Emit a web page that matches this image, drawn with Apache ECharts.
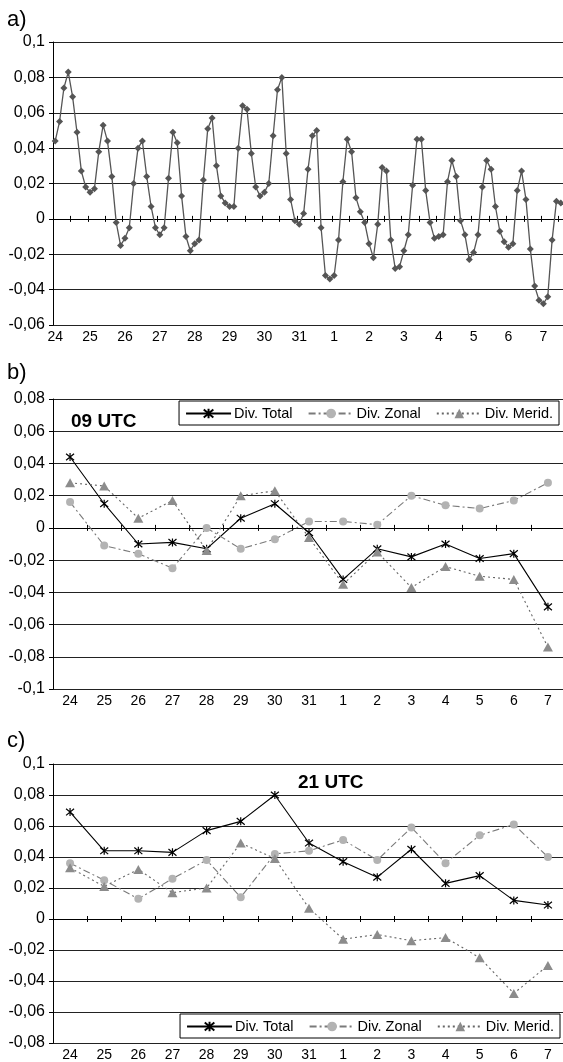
<!DOCTYPE html>
<html>
<head>
<meta charset="utf-8">
<script src="https://cdn.jsdelivr.net/npm/echarts@6/dist/echarts.min.js"></script>
<style>
  html, body { margin: 0; padding: 0; background: #fff; }
  #chart { width: 563px; height: 1062px; }
</style>
</head>
<body>
<div id="chart"></div>
<script>
const days = ['24', '25', '26', '27', '28', '29', '30', '31', '1', '2', '3', '4', '5', '6', '7'];
const hours = ['00', '03', '06', '09', '12', '15', '18', '21'];

// a) 3-hourly divergence, the last points of day 7 are outside the frame
const divA = [
  0.044, 0.055, 0.074, 0.083, 0.069, 0.049, 0.027, 0.018,
  0.015, 0.017, 0.038, 0.053, 0.044, 0.024, -0.002, -0.015,
  -0.011, -0.005, 0.020, 0.040, 0.044, 0.024, 0.007, -0.005,
  -0.009, -0.005, 0.023, 0.049, 0.043, 0.013, -0.010, -0.018,
  -0.014, -0.012, 0.022, 0.051, 0.057, 0.030, 0.013, 0.009,
  0.007, 0.007, 0.040, 0.064, 0.062, 0.037, 0.018, 0.013,
  0.015, 0.020, 0.047, 0.073, 0.080, 0.037, 0.011, -0.001,
  -0.003, 0.003, 0.028, 0.047, 0.050, -0.005, -0.032, -0.034,
  -0.032, -0.012, 0.021, 0.045, 0.038, 0.012, 0.004, -0.002,
  -0.014, -0.022, -0.003, 0.029, 0.027, -0.012, -0.028, -0.027,
  -0.018, -0.009, 0.019, 0.045, 0.045, 0.016, -0.002, -0.011,
  -0.010, -0.009, 0.021, 0.033, 0.024, -0.001, -0.009, -0.023,
  -0.019, -0.009, 0.018, 0.033, 0.028, 0.007, -0.007, -0.013,
  -0.016, -0.014, 0.016, 0.027, 0.011, -0.017, -0.038, -0.046,
  -0.048, -0.044, -0.012, 0.010, 0.009
];

// b) 09 UTC
const total09 = [0.044, 0.015, -0.010, -0.009, -0.013, 0.006, 0.015, -0.003, -0.032, -0.013, -0.018, -0.010, -0.019, -0.016, -0.049];
const zonal09 = [0.016, -0.011, -0.016, -0.025, 0.000, -0.013, -0.007, 0.004, 0.004, 0.002, 0.020, 0.014, 0.012, 0.017, 0.028];
const merid09 = [0.028, 0.026, 0.006, 0.017, -0.014, 0.020, 0.023, -0.006, -0.035, -0.015, -0.037, -0.024, -0.030, -0.032, -0.074];

// c) 21 UTC
const total21 = [0.069, 0.044, 0.044, 0.043, 0.057, 0.063, 0.080, 0.049, 0.037, 0.027, 0.045, 0.023, 0.028, 0.012, 0.009];
const zonal21 = [0.036, 0.025, 0.013, 0.026, 0.038, 0.014, 0.042, 0.044, 0.051, 0.038, 0.059, 0.036, 0.054, 0.061, 0.040];
const merid21 = [0.033, 0.021, 0.032, 0.017, 0.020, 0.049, 0.039, 0.007, -0.013, -0.010, -0.014, -0.012, -0.025, -0.048, -0.030];

const FONT = '"Liberation Sans", Arial, sans-serif';
const catsA = days.flatMap(d => hours.map(h => d + ' ' + h)).slice(0, divA.length);

const fmtY = v => String(Math.round(v * 100) / 100).replace('.', ',');

const DIAMOND = 'path://M5,0L10,5L5,10L0,5Z';
const STAR = 'path://M0,0L10,10M10,0L0,10M5,-1L5,11';

function yAxis(g, min, max) {
  return {
    type: 'value', gridIndex: g, min: min, max: max, interval: 0.02,
    axisLine: { show: true, onZero: false, lineStyle: { color: '#000', width: 1 } },
    axisTick: { show: true, length: 4, lineStyle: { color: '#000' } },
    axisLabel: { margin: 8, fontSize: 16, color: '#000', fontFamily: FONT, formatter: fmtY },
    splitLine: { show: true, lineStyle: { color: '#222', width: 1 } }
  };
}

// label axis at the bottom, plus two axes on the zero line for crossing ticks
function xAxes(g, cats, labelInterval, tickInterval) {
  const base = { type: 'category', gridIndex: g, data: cats, boundaryGap: true, splitLine: { show: false } };
  return [
    Object.assign({}, base, {
      position: 'bottom',
      axisLine: { show: false, onZero: false },
      axisTick: { show: false },
      axisLabel: { interval: labelInterval, margin: 5, fontSize: 14, color: '#000', fontFamily: FONT,
        formatter: v => v.split(' ')[0] }
    }),
    Object.assign({}, base, {
      position: 'bottom',
      axisLine: { show: true, onZero: true, onZeroAxisIndex: g, lineStyle: { color: '#000', width: 1 } },
      axisTick: { show: true, interval: tickInterval, length: 3, lineStyle: { color: '#000' } },
      axisLabel: { show: false }
    }),
    Object.assign({}, base, {
      position: 'bottom',
      axisLine: { show: false, onZero: true, onZeroAxisIndex: g },
      axisTick: { show: true, inside: true, interval: tickInterval, length: 3, lineStyle: { color: '#000' } },
      axisLabel: { show: false }
    })
  ];
}

function threeSeries(xi, yi, total, zonal, merid) {
  return [
    {
      name: 'Div. Total', type: 'line', xAxisIndex: xi, yAxisIndex: yi, data: total,
      symbol: STAR, symbolSize: 8,
      lineStyle: { color: '#000', width: 1.1 },
      itemStyle: { color: '#000', borderColor: '#000', borderWidth: 1.2 }
    },
    {
      name: 'Div. Zonal', type: 'line', xAxisIndex: xi, yAxisIndex: yi, data: zonal,
      symbol: 'circle', symbolSize: 8,
      lineStyle: { color: '#7a7a7a', width: 1.1, type: [7, 3, 2, 3] },
      itemStyle: { color: '#b3b3b3', borderWidth: 0 }
    },
    {
      name: 'Div. Merid.', type: 'line', xAxisIndex: xi, yAxisIndex: yi, data: merid,
      symbol: 'triangle', symbolSize: [10, 9],
      lineStyle: { color: '#666', width: 1.1, type: [2, 3] },
      itemStyle: { color: '#8c8c8c', borderWidth: 0 }
    }
  ];
}

function legend(right, top) {
  return {
    right: right, top: top, orient: 'horizontal',
    data: ['Div. Total', 'Div. Zonal', 'Div. Merid.'],
    itemWidth: 45, itemHeight: 12, itemGap: 15,
    padding: [5, 6, 4, 6],
    backgroundColor: '#fff', borderColor: '#000', borderWidth: 1,
    textStyle: { fontSize: 14.5, color: '#000', fontFamily: FONT, padding: [0, 0, 0, -2] }
  };
}

function label(text, left, top, size, weight) {
  return { text: text, left: left, top: top, padding: 0,
    textStyle: { fontSize: size, fontWeight: weight, color: '#000', fontFamily: FONT, lineHeight: size } };
}

const option = {
  animation: false,
  backgroundColor: '#fff',
  title: [
    label('a)', 7, 9, 22, 'normal'),
    label('b)', 7, 362, 22, 'normal'),
    label('c)', 7, 730, 22, 'normal'),
    label('09 UTC', 71, 412, 19, 'bold'),
    label('21 UTC', 298, 773, 19, 'bold')
  ],
  legend: [legend(4, 401), legend(3, 1014)],
  grid: [
    { left: 53, top: 42, width: 510, height: 283, outerBoundsMode: 'none' },
    { left: 53, top: 399, width: 512, height: 290, outerBoundsMode: 'none' },
    { left: 53, top: 764, width: 512, height: 279, outerBoundsMode: 'none' }
  ],
  xAxis: [].concat(
    xAxes(0, catsA, 7, 3),
    xAxes(1, days, 0, 0),
    xAxes(2, days, 0, 0)
  ),
  yAxis: [yAxis(0, -0.06, 0.1), yAxis(1, -0.1, 0.08), yAxis(2, -0.08, 0.1)],
  series: [
    {
      name: 'Div.', type: 'line', xAxisIndex: 0, yAxisIndex: 0, data: divA,
      symbol: DIAMOND, symbolSize: 7, showAllSymbol: true,
      lineStyle: { color: '#555', width: 1.3 },
      itemStyle: { color: '#555', borderWidth: 0 }
    }
  ].concat(
    threeSeries(3, 1, total09, zonal09, merid09),
    threeSeries(6, 2, total21, zonal21, merid21)
  )
};

const chart = echarts.init(document.getElementById('chart'));
chart.setOption(option);
</script>
</body>
</html>
